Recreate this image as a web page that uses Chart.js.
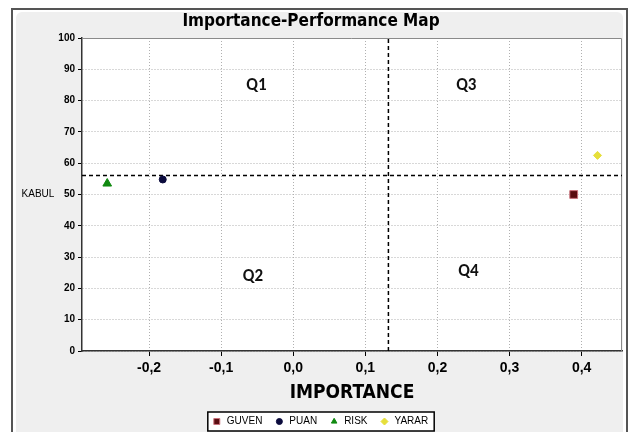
<!DOCTYPE html>
<html lang="en">
  <head>
    <meta charset="UTF-8" />
    <title>Importance-Performance Map</title>
    <style>
      * { margin: 0; padding: 0; }
      body { width: 630px; height: 432px; background: #fff; overflow: hidden; }
      .chartBox { width: 630px; height: 432px; }
    </style>
  </head>
  <body>
    <div class="chartBox">
      <canvas id="myChart" width="630" height="432"></canvas>
    </div>

    <script src="https://cdn.jsdelivr.net/npm/chart.js"></script>

    <script>
      // data block
      const constructs = ["GUVEN", "PUAN", "RISK", "YARAR"];
      const importance = [0.389, -0.181, -0.258, 0.422];
      const performance = [50.0, 54.8, 53.5, 62.5];
      const pointStyles = ["rect", "circle", "triangle", "rectRot"];
      const colors = ["#5a0d10", "#0b0b3d", "#108a10", "#e6df3a"];

      const xRange = [-0.293, 0.456];
      const yRange = [0, 100];
      const meanImportance = 0.132;
      const meanPerformance = 56.1;

      const quadrants = ["Q1", "Q2", "Q3", "Q4"];
      const quadX = [-0.051, -0.056, 0.240, 0.243];
      const quadY = [84.6, 23.7, 84.6, 25.3];

      const fmt = (v) => v.toFixed(1).replace(".", ",");
      const markRadius = [5.5, 3.5, 5, 4];
      const legendRadius = [4.2, 3, 3.2, 3.5];

      const datasets = constructs.map((name, i) => ({
        label: name,
        data: [{ x: importance[i], y: performance[i] }],
        pointStyle: pointStyles[i],
        backgroundColor: colors[i],
        borderColor: i === 0 ? "#c9707a" : colors[i],
        borderWidth: 1,
        pointRadius: markRadius[i],
        pointHoverRadius: markRadius[i]
      }));

      // reference lines
      datasets.push({
        type: "line",
        label: "_h",
        data: [
          { x: xRange[0], y: meanPerformance },
          { x: xRange[1], y: meanPerformance }
        ],
        borderColor: "#000",
        borderWidth: 1.5,
        borderDash: [4, 3],
        pointRadius: 0
      });
      datasets.push({
        type: "line",
        label: "_v",
        data: [
          { x: meanImportance, y: yRange[0] },
          { x: meanImportance, y: yRange[1] }
        ],
        borderColor: "#000",
        borderWidth: 1.5,
        borderDash: [4, 3],
        pointRadius: 0
      });

      // small legend drawn in a framed box
      function drawLegend(chart) {
        const { ctx } = chart;
        const font = "10px 'Liberation Sans', sans-serif";
        ctx.font = font;
        const markGap = 7, itemGap = 14, markSize = 6;
        const items = constructs.map((name) => ({ name, w: ctx.measureText(name).width }));
        let total = 0;
        items.forEach((it, i) => {
          total += markSize + markGap + it.w + (i < items.length - 1 ? itemGap : 0);
        });
        const boxPad = 6;
        const cx = 321, cy = 421.5;
        const x0 = cx - total / 2 - boxPad;
        ctx.fillStyle = "#fff";
        ctx.fillRect(x0, 412, total + boxPad * 2, 19);
        ctx.strokeStyle = "#000";
        ctx.lineWidth = 1.5;
        ctx.strokeRect(x0, 412, total + boxPad * 2, 19);
        let x = cx - total / 2;
        items.forEach((it, i) => {
          const ds = chart.data.datasets[i];
          ctx.fillStyle = ds.backgroundColor;
          ctx.strokeStyle = ds.borderColor;
          ctx.lineWidth = 1;
          Chart.helpers.drawPoint(
            ctx,
            { pointStyle: ds.pointStyle, radius: legendRadius[i], rotation: 0, borderWidth: 1 },
            x + markSize / 2,
            cy
          );
          x += markSize + markGap;
          ctx.fillStyle = "#000";
          ctx.font = font;
          ctx.textAlign = "left";
          ctx.textBaseline = "middle";
          ctx.fillText(it.name, x, cy);
          x += it.w + itemGap;
        });
      }

      // background / frame plugin
      const frame = {
        id: "frame",
        beforeDraw(chart) {
          const { ctx, chartArea: { top, left, right, bottom } } = chart;
          ctx.save();
          ctx.fillStyle = "#fff";
          ctx.fillRect(0, 0, chart.width, chart.height);
          ctx.strokeStyle = "#555";
          ctx.lineWidth = 2;
          ctx.strokeRect(12, 9, 615, 430);
          ctx.fillStyle = "#efefef";
          ctx.beginPath();
          ctx.roundRect(16, 12, 607, 425, 6);
          ctx.fill();
          ctx.fillStyle = "#fff";
          ctx.fillRect(left, top, right - left, bottom - top);
          ctx.restore();
        },
        beforeDatasetsDraw(chart) {
          const { ctx, chartArea: { top, left, right, bottom } } = chart;
          ctx.save();
          ctx.strokeStyle = "#8a8a8a";
          ctx.lineWidth = 1;
          ctx.beginPath();
          ctx.moveTo(left, top + 0.5);
          ctx.lineTo(right - 0.5, top + 0.5);
          ctx.lineTo(right - 0.5, bottom);
          ctx.stroke();
          ctx.restore();
        },
        afterDraw(chart) {
          const { ctx, scales: { x, y } } = chart;
          ctx.save();
          // quadrant labels
          ctx.font = "bold 17px Carlito, 'Liberation Sans', sans-serif";
          ctx.fillStyle = "#111";
          ctx.textAlign = "center";
          ctx.textBaseline = "middle";
          quadrants.forEach((q, i) => {
            ctx.fillText(q, x.getPixelForValue(quadX[i]), y.getPixelForValue(quadY[i]));
          });
          // y axis title, horizontal
          ctx.font = "10px 'Liberation Sans', sans-serif";
          ctx.fillStyle = "#000";
          ctx.fillText("KABUL", 38, (y.top + y.bottom) / 2);
          drawLegend(chart);
          ctx.restore();
        }
      };

      const narrow = "'DejaVu Sans Condensed', 'Liberation Sans Narrow', sans-serif";

      // config block
      const config = {
        type: "scatter",
        data: { datasets },
        options: {
          responsive: false,
          animation: false,
          layout: { padding: { left: 0, right: 8, top: 0, bottom: 0 } },
          scales: {
            x: {
              type: "linear",
              min: xRange[0],
              max: xRange[1],
              afterFit: (s) => { s.height = 81; },
              ticks: {
                stepSize: 0.1,
                includeBounds: false,
                color: "#000",
                font: { family: "'Liberation Sans', sans-serif", size: 14, weight: "bold" },
                padding: 4,
                maxRotation: 0,
                callback: (v) => fmt(v)
              },
              grid: {
                color: "#b0b0b0",
                tickColor: "#000",
                tickLength: 5,
                tickBorderDash: []
              },
              border: { color: "#333", width: 1.5, dash: [1, 2] },
              title: {
                display: true,
                text: "IMPORTANCE",
                color: "#000",
                font: { family: narrow, size: 19, weight: "bold" },
                padding: { top: 0, bottom: 28 }
              }
            },
            y: {
              min: yRange[0],
              max: yRange[1],
              afterFit: (s) => { s.width = 82; },
              ticks: {
                stepSize: 10,
                color: "#000",
                font: { family: "'Liberation Sans', sans-serif", size: 10, weight: "bold" },
                padding: 3
              },
              grid: {
                color: "#b0b0b0",
                tickColor: "#000",
                tickLength: 4,
                tickBorderDash: []
              },
              border: { color: "#333", width: 1.5, dash: [1, 2] }
            }
          },
          plugins: {
            title: {
              display: true,
              text: "Importance-Performance Map",
              color: "#000",
              font: { family: narrow, size: 17, weight: "bold" },
              padding: { top: 11, bottom: 6.6 }
            },
            legend: { display: false },
            tooltip: { enabled: false }
          }
        },
        plugins: [frame]
      };

      // init render block
      const myChart = new Chart(document.getElementById("myChart"), config);
    </script>
  </body>
</html>
